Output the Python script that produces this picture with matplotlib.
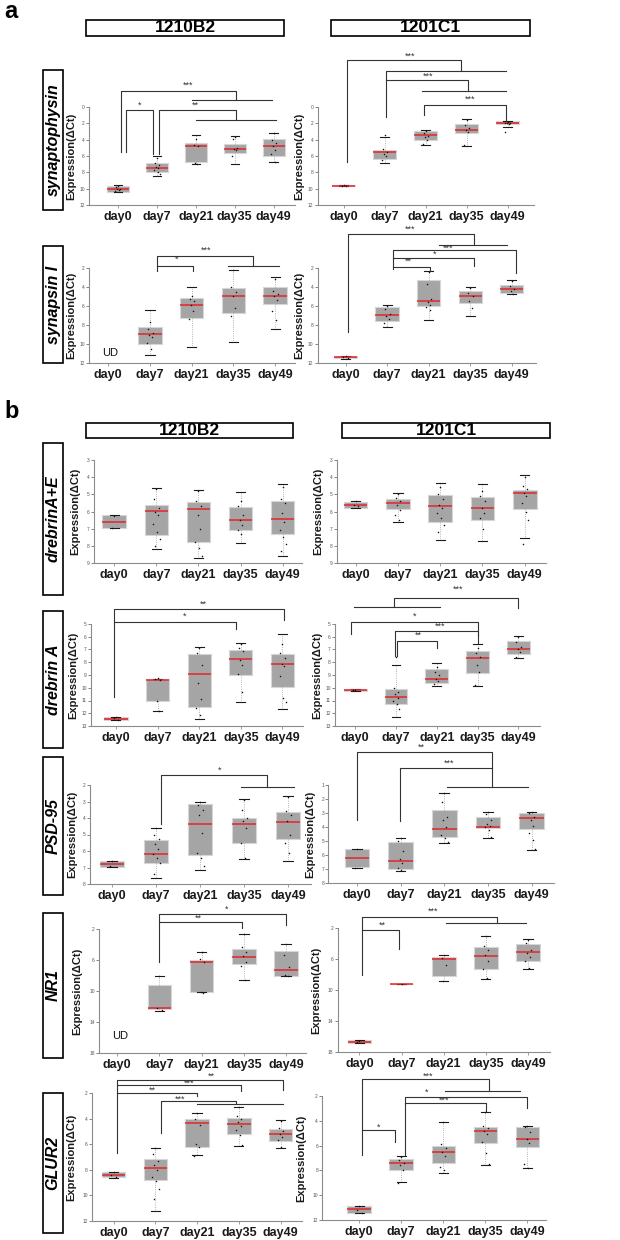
import matplotlib
matplotlib.use("Agg")
import matplotlib.pyplot as plt
from matplotlib.patches import Rectangle

W, H = 620, 1240
SX = 0.9  # horizontal squeeze of the measured pixel layout
plt.rcParams['font.family'] = ['Liberation Sans', 'DejaVu Sans']
NARROW = ['Liberation Sans Narrow', 'Liberation Sans', 'DejaVu Sans']

days = ["day0", "day7", "day21", "day35", "day49"]

# box stats per day: (low whisker, q1, median, q3, high whisker); None = UD
syp_b2 = [(9.6, 9.7, 10.05, 10.35, 10.4), (6.0, 6.9, 7.45, 7.9, 8.5), (3.4, 4.35, 4.75, 6.7, 7.0),
          (3.6, 4.5, 5.1, 5.6, 7.0), (3.2, 3.95, 4.75, 6.0, 6.7)]
syp_b2_pts = [[9.7, 9.8, 10.0, 10.1, 10.2, 10.3], [6.3, 6.8, 7.1, 7.3, 7.5, 7.7, 7.9, 8.2],
              [3.9, 4.7, 4.8, 6.8, 7.0], [3.7, 3.9, 5.0, 5.2, 5.3, 6.0], [3.2, 4.0, 4.4, 4.8, 5.3, 5.8, 6.7]]
syp_c1 = [(9.6, 9.6, 9.65, 9.7, 9.7), (3.66, 5.3, 5.5, 6.4, 6.8), (2.77, 2.97, 3.46, 4.07, 4.6),
          (1.5, 2.1, 2.77, 3.2, 4.76), (1.7, 1.7, 1.95, 2.1, 2.5)]
syp_c1_pts = [[9.6, 9.65, 9.7], [3.4, 5.2, 5.5, 5.7, 6.0, 6.5], [2.9, 3.2, 3.5, 3.7, 4.0, 4.5],
              [1.6, 2.2, 2.6, 2.8, 3.0, 4.7], [1.8, 1.9, 2.0, 2.0, 2.1, 3.1]]

syn_b2 = [None, (6.38, 8.22, 8.93, 9.99, 11.15), (4.01, 5.18, 5.89, 7.23, 10.3),
          (2.18, 4.12, 4.97, 6.77, 9.77), (2.92, 4.05, 4.9, 5.78, 8.43)]
syn_b2_pts = [[], [7.7, 8.4, 8.8, 9.0, 9.3, 9.9, 10.5], [5.0, 5.3, 5.5, 5.9, 6.5, 7.4],
              [2.2, 4.0, 4.5, 5.0, 6.2, 7.0], [3.2, 4.4, 4.7, 5.0, 5.4, 6.5, 7.5]]
syn_c1 = [(11.26, 11.3, 11.4, 11.5, 11.54), (5.89, 6.13, 6.98, 7.55, 8.25), (2.28, 3.31, 5.5, 6.03, 7.51),
          (3.95, 4.4, 4.97, 5.68, 7.05), (3.31, 3.77, 4.26, 4.58, 4.75)]
syn_c1_pts = [[11.3, 11.4, 11.5], [6.0, 6.3, 6.8, 7.1, 7.4, 7.8], [2.4, 3.7, 5.3, 5.6, 5.9, 6.1, 6.4],
              [4.1, 4.6, 5.0, 5.5, 6.2], [3.4, 3.9, 4.2, 4.4, 4.7]]

dre_b2 = [(6.22, 6.22, 6.6, 6.94, 6.94), (4.64, 5.63, 5.96, 7.39, 8.17), (4.75, 5.44, 5.88, 7.78, 8.71),
          (4.85, 5.73, 6.47, 7.09, 7.84), (4.42, 5.4, 6.43, 7.29, 8.57)]
dre_b2_pts = [[6.25, 6.95], [4.7, 5.3, 5.8, 6.0, 6.2, 6.7, 7.2, 7.6, 8.0], [4.8, 5.4, 5.7, 6.2, 7.0, 7.8, 8.1, 8.6],
              [5.4, 5.7, 6.2, 6.5, 6.8, 7.1, 7.3], [4.6, 5.3, 5.5, 6.1, 6.6, 7.1, 7.5, 7.9, 8.3]]
dre_c1 = [(5.38, 5.44, 5.6, 5.77, 5.77), (4.95, 5.3, 5.53, 5.83, 6.6), (4.36, 5.05, 5.69, 6.6, 7.64),
          (4.42, 5.18, 5.79, 6.47, 7.74), (3.88, 4.75, 4.9, 5.83, 7.52)]
dre_c1_pts = [[5.4, 5.6, 5.7], [5.0, 5.2, 5.4, 5.6, 5.9, 6.2, 6.5], [4.6, 5.0, 5.3, 5.6, 5.8, 6.1, 6.4, 6.8, 7.2],
              [4.8, 5.1, 5.4, 5.8, 6.1, 6.4, 7.0], [4.0, 4.5, 4.7, 4.9, 5.1, 5.5, 6.0, 6.5, 7.9]]

dra_b2 = [(12.3, 12.32, 12.45, 12.53, 12.55), (9.28, 9.3, 9.38, 11.01, 11.82), (6.84, 7.36, 8.91, 11.48, 12.45),
          (6.52, 7.02, 7.76, 8.99, 11.14), (5.76, 7.36, 8.1, 9.96, 11.69)]
dra_b2_pts = [[12.3, 12.4, 12.5], [9.25, 9.35, 9.4, 11.0, 11.8], [6.9, 7.3, 8.2, 9.6, 10.9, 11.6, 12.1],
              [6.6, 6.9, 7.1, 7.8, 8.2, 8.9, 10.3], [6.6, 7.3, 7.7, 8.1, 8.3, 9.1, 10.8, 11.1]]
dra_c1 = [(10.12, 10.12, 10.17, 10.25, 10.25), (8.2, 10.12, 10.75, 11.27, 12.27), (8.07, 8.52, 9.28, 9.62, 9.86),
          (6.57, 7.1, 7.68, 8.81, 9.83), (5.92, 6.31, 6.97, 7.36, 7.68)]
dra_c1_pts = [[10.15, 10.2], [7.55, 10.0, 10.3, 10.5, 10.8, 11.0, 11.3, 11.7], [8.4, 8.8, 9.0, 9.3, 9.5, 9.7],
              [6.9, 7.3, 7.6, 8.2, 8.8, 9.8], [6.0, 6.4, 6.8, 7.0, 7.2, 7.6]]

psd_b2 = [(6.59, 6.59, 6.8, 6.94, 6.94), (4.58, 5.35, 6.19, 6.72, 7.63), (3.02, 3.18, 4.34, 6.23, 7.18),
          (2.83, 3.99, 4.36, 5.52, 6.47), (2.67, 3.63, 4.22, 5.29, 6.59)]
psd_b2_pts = [[6.6, 6.9], [4.6, 5.0, 5.3, 5.6, 5.9, 6.2, 6.4, 6.7, 7.4], [3.05, 3.2, 3.5, 3.8, 4.9, 6.1, 6.4, 6.9],
              [2.9, 3.5, 4.0, 4.2, 4.6, 5.5, 6.4], [2.7, 3.6, 3.8, 4.2, 5.0, 5.5, 6.1]]
psd_c1 = [(5.55, 5.58, 6.23, 6.89, 6.9), (4.75, 5.04, 6.46, 6.99, 7.13), (1.59, 2.78, 4.14, 4.68, 5.16),
          (2.9, 3.26, 3.97, 4.1, 4.8), (2.9, 3.02, 3.33, 4.16, 5.63)]
psd_c1_pts = [[5.55, 6.9], [4.8, 5.0, 5.7, 6.3, 6.6, 6.9, 7.1], [1.6, 2.2, 3.3, 3.5, 4.0, 4.6, 4.8, 5.1],
              [2.9, 3.1, 3.5, 3.8, 3.9, 4.0, 4.2, 4.7], [2.9, 3.0, 3.3, 3.5, 3.9, 4.4, 4.9, 5.6]]

nr1_b2 = [None, (8.02, 9.18, 12.24, 12.32, 12.54), (5.01, 5.96, 6.26, 10.17, 10.17),
          (2.65, 4.54, 5.61, 6.52, 8.62), (3.89, 4.8, 7.29, 8.02, 8.02)]
nr1_b2_pts = [[], [8.0, 12.2, 12.4], [5.0, 5.9, 6.3, 10.1, 10.2], [2.7, 4.3, 5.0, 5.5, 6.2, 6.8, 8.6],
              [3.9, 5.3, 6.9, 7.9, 8.0]]
nr1_c1 = [(16.5, 16.5, 16.68, 16.85, 16.85), (9.2, 9.2, 9.23, 9.26, 9.26), (5.46, 5.77, 5.98, 8.19, 8.84),
          (3.0, 4.47, 5.56, 7.29, 8.55), (3.43, 4.08, 5.12, 6.21, 7.25)]
nr1_c1_pts = [[16.6, 16.7], [9.23], [5.5, 5.9, 6.8, 8.8], [3.0, 4.3, 4.9, 5.5, 6.2, 7.3, 8.5],
              [3.5, 3.9, 4.8, 5.2, 5.8, 6.2, 7.2]]

glu_b2 = [(8.15, 8.2, 8.43, 8.59, 8.65), (6.26, 7.17, 7.87, 8.8, 11.25), (3.58, 4.04, 4.38, 6.19, 6.88),
          (3.06, 3.99, 4.4, 5.23, 6.16), (4.14, 4.84, 5.2, 5.72, 6.26)]
glu_b2_pts = [[8.2, 8.4, 8.6], [6.3, 6.8, 7.3, 7.6, 8.0, 8.6, 8.9, 9.5, 10.3], [3.6, 4.0, 4.5, 6.0, 6.2, 6.9],
              [3.1, 3.8, 4.0, 4.3, 4.6, 4.9, 5.3, 6.1], [4.2, 4.7, 5.0, 5.2, 5.4, 5.7, 6.2]]
glu_c1 = [(10.84, 10.84, 11.14, 11.41, 11.45), (6.81, 7.08, 7.43, 7.97, 8.96), (4.07, 6.01, 6.49, 7.43, 8.18),
          (3.26, 4.53, 4.8, 5.76, 7.59), (4.42, 4.47, 5.47, 6.14, 7.83)]
glu_c1_pts = [[10.9, 11.2, 11.4], [6.9, 7.2, 7.4, 7.6, 8.0, 9.0], [4.1, 5.9, 6.2, 6.5, 6.8, 7.7, 8.0],
              [3.3, 4.4, 4.6, 4.8, 5.1, 5.7, 6.6, 7.5], [4.4, 4.5, 4.9, 5.5, 5.8, 7.5, 7.8]]

# significance brackets (day index, value) and star labels
syp_b2_br = [[(1.07, 5.5), (1.07, -1.91), (4.02, -1.91), (4.02, -0.81)], [(2.9, -0.81), (4.96, -0.81)],
             [(1.2, 5.5), (1.2, 0.41), (1.91, 0.41), (1.91, 5.7)],
             [(2.05, 5.7), (2.05, 0.41), (4.02, 0.41), (4.02, 1.55)], [(3.01, 1.55), (5.07, 1.55)]]
syp_b2_st = [(2.8, -2.64, '***'), (1.56, -0.2, '*'), (2.99, -0.2, '**')]
syp_c1_br = [[(1.07, 6.7), (1.07, -5.7), (3.87, -5.7), (3.87, -4.35)], [(2.02, 1.2), (2.02, -4.35), (4.97, -4.35)],
             [(2.02, -3.25), (4.04, -3.25), (4.04, -1.95)], [(2.91, -1.95), (4.97, -1.95)],
             [(2.96, 1.0), (2.96, -0.2), (4.97, -0.2), (4.97, 1.71)]]
syp_c1_st = [(2.62, -6.18, '***'), (3.05, -3.74, '***'), (4.09, -0.94, '***')]
syn_b2_br = [[(2.17, 2.35), (2.17, 0.69), (4.48, 0.69), (4.48, 1.82)], [(3.88, 1.82), (5.09, 1.82)],
             [(2.17, 1.82), (3.04, 1.82), (3.04, 2.35)]]
syn_b2_st = [(3.35, 0.16, '***'), (2.63, 1.12, '*')]
syn_c1_br = [[(1.05, 8.75), (1.05, -1.53), (4.09, -1.53), (4.09, -0.39)], [(3.25, -0.39), (4.88, -0.39)],
             [(2.13, 2.1), (2.13, 0.14), (5.09, 0.14), (5.09, 2.5)], [(2.13, 0.94), (4.09, 0.94), (4.09, 1.83)],
             [(2.13, 1.9), (3.02, 1.9), (3.02, 2.29)]]
syn_c1_st = [(2.56, -2.06, '***'), (3.47, -0.12, '***'), (3.15, 0.52, '*'), (2.51, 1.3, '**')]
dra_b2_br = [[(0.96, 10.7), (0.96, 3.82), (5.04, 3.82), (5.04, 4.71)], [(0.96, 4.84), (3.88, 4.84), (3.88, 5.37)]]
dra_b2_st = [(3.1, 3.48, '**'), (2.64, 4.4, '*')]
dra_c1_br = [[(0.96, 3.7), (3.08, 3.7)], [(1.96, 3.7), (1.96, 2.95), (4.98, 2.95), (4.98, 3.74)],
             [(0.89, 5.76), (0.89, 4.84), (4.0, 4.84), (4.0, 5.97)],
             [(1.97, 7.5), (1.97, 5.58), (4.0, 5.58), (4.0, 6.5)], [(2.03, 7.5), (2.03, 6.31), (3.0, 6.31), (3.0, 6.89)]]
dra_c1_st = [(3.52, 2.24, '***'), (2.46, 4.4, '*'), (3.08, 5.19, '***'), (2.55, 5.9, '**')]
psd_b2_br = [[(2.12, 4.34), (2.12, 1.39), (4.52, 1.39), (4.52, 2.1)], [(3.93, 2.1), (5.13, 2.1)]]
psd_b2_st = [(3.45, 1.09, '*')]
psd_c1_br = [[(1.0, 3.49), (1.0, -1.37), (4.1, -1.37), (4.1, 1.12)], [(1.98, 3.6), (1.98, -0.19), (4.1, -0.19)],
             [(3.06, 1.12), (4.92, 1.12)]]
psd_c1_st = [(2.47, -1.69, '**'), (3.12, -0.55, '***')]
nr1_b2_br = [[(2.0, 6.26), (2.0, 0.06), (4.99, 0.06), (4.99, 1.53)], [(2.0, 1.1), (3.95, 1.1), (3.95, 1.87)]]
nr1_b2_st = [(3.59, -0.49, '*'), (2.93, 0.67, '**')]
nr1_c1_br = [[(1.07, 8.06), (1.07, 0.62), (4.27, 0.62), (4.27, 1.35)], [(3.06, 1.35), (4.96, 1.35)],
             [(1.07, 2.22), (1.94, 2.22), (1.94, 4.69)]]
nr1_c1_st = [(2.75, -0.16, '***'), (1.55, 1.7, '**')]
glu_b2_br = [[(1.08, 6.7), (1.08, 0.97), (5.05, 0.97), (5.05, 1.79)], [(1.08, 1.41), (4.04, 1.41), (4.04, 1.84)],
             [(1.08, 2.0), (3.0, 2.0), (3.0, 2.26)], [(2.14, 5.15), (2.14, 2.65), (3.93, 2.65), (3.93, 2.88)],
             [(3.0, 2.88), (5.05, 2.88)]]
glu_b2_st = [(3.35, 0.71, '**'), (2.8, 1.2, '***'), (1.94, 1.79, '**'), (2.6, 2.52, '***')]
glu_c1_br = [[(1.07, 6.76), (1.07, 0.66), (4.09, 0.66), (4.09, 1.57)], [(3.05, 1.57), (4.83, 1.57)],
             [(2.08, 6.76), (2.08, 2.05), (5.0, 2.05), (5.0, 3.0)], [(2.08, 2.59), (4.01, 2.59), (4.01, 3.18)],
             [(1.07, 4.74), (1.86, 4.74), (1.86, 5.68)]]
glu_c1_st = [(2.65, 0.39, '***'), (2.61, 1.73, '*'), (3.03, 2.38, '***'), (1.45, 4.53, '*')]

fig = plt.figure(figsize=(W / 100, H / 100), dpi=100)


def px_rect(x0, y0, x1, y1):
    return [SX * x0 / W, 1 - y1 / H, SX * (x1 - x0) / W, (y1 - y0) / H]


def panel(rect, xlim, ylim, yticks, stats, pts, br, st, ud=None, labx=13):
    ax = fig.add_axes(px_rect(*rect))
    pos = [i + 1 for i, s in enumerate(stats) if s is not None]
    bs = [dict(whislo=s[0], q1=s[1], med=s[2], q3=s[3], whishi=s[4], fliers=[]) for s in stats if s is not None]
    ax.bxp(bs, positions=pos, widths=0.56, patch_artist=True, showfliers=False, capwidths=0.22,
           boxprops=dict(facecolor='#a5a5a5', edgecolor='#d6d6d6', linewidth=0.8),
           medianprops=dict(color='#e3262c', linewidth=1.1),
           whiskerprops=dict(color='#9c9c9c', linewidth=0.6, linestyle=':'),
           capprops=dict(color='#1a1a1a', linewidth=0.8))
    offs = [0.0, -0.05, 0.06, -0.02, 0.04, -0.07, 0.02, 0.08, -0.04, 0.05]
    for i, vals in enumerate(pts):
        xs = [i + 1 + offs[k % len(offs)] for k in range(len(vals))]
        ax.scatter(xs, vals, s=1.2, color='#111111', zorder=5, linewidths=0)
    for line in br:
        ax.plot([p[0] for p in line], [p[1] for p in line], color='#333333', lw=0.8, clip_on=False, zorder=6)
    for x, y, t in st:
        ax.text(x, y, t, ha='center', va='center', fontsize=6.5, color='#333333', clip_on=False)
    if ud is not None:
        ax.text(ud[0], ud[1], 'UD', ha='center', va='center', fontsize=8, color='#111111')
    ax.set_xlim(*xlim)
    ax.set_ylim(*ylim)
    ax.set_yticks(yticks)
    ax.set_xticks(range(1, 6))
    ax.set_xticklabels(days, fontsize=9, fontweight='bold', color='#1a1a1a', family=NARROW)
    ax.tick_params(axis='y', labelsize=3.5, length=2, width=0.5, pad=1, colors='#555555')
    ax.tick_params(axis='x', length=2, width=0.5, pad=2, color='#777777')
    for s in ['top', 'right']:
        ax.spines[s].set_visible(False)
    for s in ['left', 'bottom']:
        ax.spines[s].set_color('#8c8c8c')
        ax.spines[s].set_linewidth(0.8)
    ax.set_ylabel('Expression(\u0394Ct)', fontsize=8, fontweight='bold', color='#1a1a1a')
    ax.yaxis.set_label_coords(-labx / (SX * (rect[2] - rect[0])), 0.5)
    return ax


def header(x0, y0, x1, y1, text):
    x0, x1 = SX * x0, SX * x1
    fig.patches.append(Rectangle((x0 / W, 1 - y1 / H), (x1 - x0) / W, (y1 - y0) / H, transform=fig.transFigure,
                                 fill=False, edgecolor='black', linewidth=1.2))
    fig.text((x0 + x1) / 2 / W, 1 - (y0 + y1) / 2 / H, text, ha='center', va='center', fontsize=12.5,
             fontweight='bold')


def rowlabel(y0, y1, text, x0=48, x1=70):
    x0, x1 = SX * x0, SX * x1
    fig.patches.append(Rectangle((x0 / W, 1 - y1 / H), (x1 - x0) / W, (y1 - y0) / H, transform=fig.transFigure,
                                 fill=False, edgecolor='black', linewidth=1.2))
    fig.text((x0 + x1) / 2 / W, 1 - (y0 + y1) / 2 / H, text, ha='center', va='center', rotation=90,
             fontsize=11.5, fontweight='bold', fontstyle='italic')


fig.text(4 / W, 1 - 11 / H, 'a', fontsize=17, fontweight='bold', va='center')
fig.text(4 / W, 1 - 411 / H, 'b', fontsize=17, fontweight='bold', va='center')
header(96, 20, 316, 36, '1210B2')
header(368, 20, 589, 36, '1201C1')
header(95, 423, 325, 438, '1210B2')
header(380, 423, 611, 438, '1201C1')
rowlabel(70, 210, 'synaptophysin')
rowlabel(246, 363, 'synapsin I')
rowlabel(443, 595, 'drebrinA+E')
rowlabel(611, 748, 'drebrin A')
rowlabel(757, 895, 'PSD-95')
rowlabel(913, 1058, 'NR1')
rowlabel(1093, 1233, 'GLUR2')

panel((99, 107, 328, 205), (0.26, 5.55), (12, 0), range(0, 13, 2), syp_b2, syp_b2_pts, syp_b2_br, syp_b2_st)
panel((353, 107, 593, 205), (0.36, 5.64), (12, 0), range(0, 13, 2), syp_c1, syp_c1_pts, syp_c1_br, syp_c1_st)
panel((99, 268, 328, 363), (0.54, 5.48), (12, 2), range(2, 13, 2), syn_b2, syn_b2_pts, syn_b2_br, syn_b2_st,
      ud=(1.05, 11.0))
panel((353, 268, 595, 363), (0.33, 5.57), (12, 2), range(2, 13, 2), syn_c1, syn_c1_pts, syn_c1_br, syn_c1_st)
panel((104, 460, 336, 563), (0.51, 5.47), (9, 3), range(3, 10), dre_b2, dre_b2_pts, [], [])
panel((374, 460, 607, 563), (0.55, 5.51), (9, 3), range(3, 10), dre_c1, dre_c1_pts, [], [])
panel((101, 624, 337, 726), (0.4, 5.5), (13, 5), range(5, 14), dra_b2, dra_b2_pts, dra_b2_br, dra_b2_st)
panel((372, 624, 600, 726), (0.5, 5.53), (13, 5), range(5, 14), dra_c1, dra_c1_pts, dra_c1_br, dra_c1_st)
panel((100, 785, 346, 884), (0.5, 5.53), (8, 2), range(2, 9), psd_b2, psd_b2_pts, psd_b2_br, psd_b2_st)
panel((365, 785, 615, 883), (0.35, 5.5), (8, 1), range(1, 9), psd_c1, psd_c1_pts, psd_c1_br, psd_c1_st)
panel((110, 929, 340, 1053), (0.57, 5.47), (18, 2), range(2, 19, 4), nr1_b2, nr1_b2_pts, nr1_b2_br, nr1_b2_st,
      ud=(1.06, 15.85), labx=17)
panel((375, 928, 611, 1052), (0.48, 5.52), (18, 2), range(2, 19, 4), nr1_c1, nr1_c1_pts, nr1_c1_br, nr1_c1_st,
      labx=16)
panel((102, 1093, 335, 1221), (0.48, 5.5), (12, 2), range(2, 13, 2), glu_b2, glu_b2_pts, glu_b2_br, glu_b2_st,
      labx=16)
panel((358, 1096, 607, 1220), (0.12, 5.45), (12, 2), range(2, 13, 2), glu_c1, glu_c1_pts, glu_c1_br, glu_c1_st,
      labx=16)

fig.savefig('out.png', dpi=100)
